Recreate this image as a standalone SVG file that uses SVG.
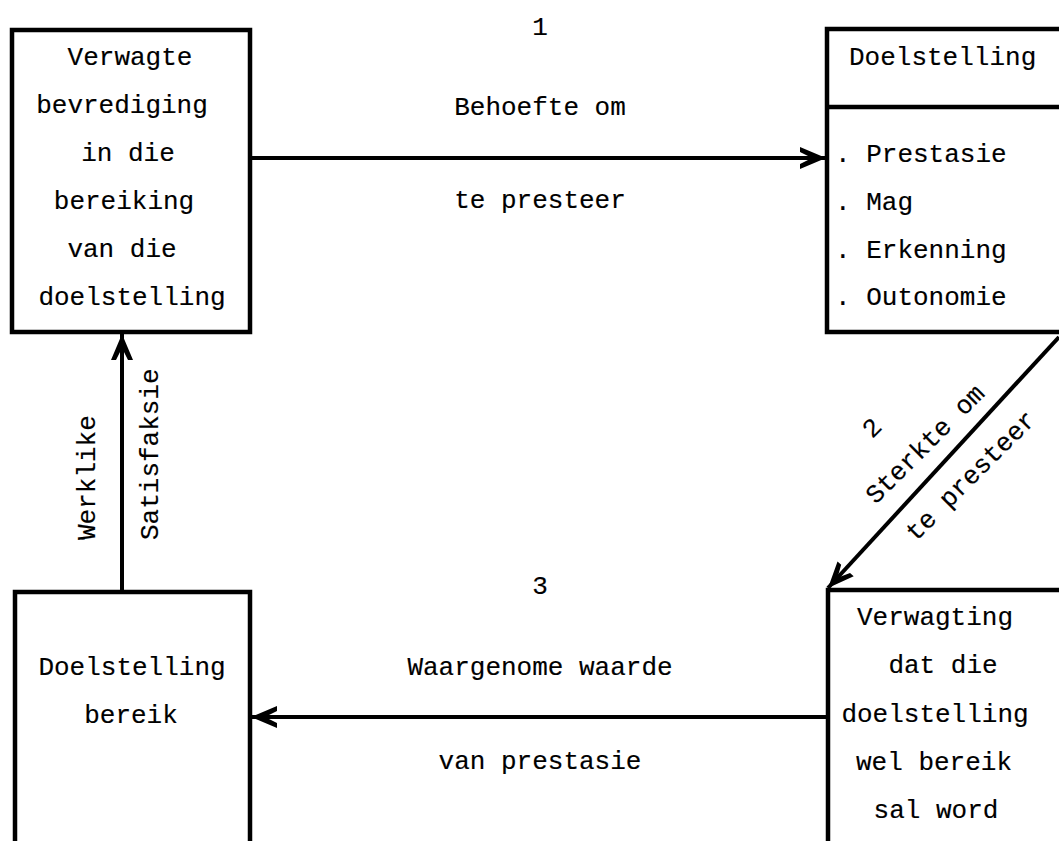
<svg xmlns="http://www.w3.org/2000/svg" width="1059" height="841" viewBox="0 0 1059 841">
<style>
  .box { fill: none; stroke: #000; stroke-width: 4.5; }
  .conn { fill: none; stroke: #000; stroke-width: 4; }
  text { font-family: "Liberation Mono", "DejaVu Sans Mono", monospace; font-size: 26px; fill: #000; stroke: #000; stroke-width: 0.15; }
  .c { text-anchor: middle; }
</style>
<defs>
  <marker id="arr" markerUnits="userSpaceOnUse" markerWidth="30" markerHeight="26" refX="27" refY="12" orient="auto">
    <path d="M27,12 L1,1 L1,6 L13,12 L1,18 L1,23 Z" fill="#000"/>
  </marker>
</defs>
<rect width="1059" height="841" fill="#fff"/>

<g id="node-verwagte-bevrediging">
  <rect class="box" x="12" y="30" width="238" height="302"/>
  <text class="c" x="130" y="65">Verwagte</text>
  <text class="c" x="122" y="113">bevrediging</text>
  <text class="c" x="128" y="161">in die</text>
  <text class="c" x="124" y="209">bereiking</text>
  <text class="c" x="122" y="257">van die</text>
  <text class="c" x="132" y="305">doelstelling</text>
</g>

<g id="node-doelstelling">
  <rect class="box" x="827" y="29" width="260" height="303"/>
  <line class="box" x1="827" y1="107" x2="1062" y2="107"/>
  <text x="849" y="65">Doelstelling</text>
  <text x="835" y="162">. Prestasie</text>
  <text x="835" y="210">. Mag</text>
  <text x="835" y="258">. Erkenning</text>
  <text x="835" y="305">. Outonomie</text>
</g>

<g id="node-verwagting">
  <rect class="box" x="828" y="590" width="260" height="280"/>
  <text class="c" x="935" y="625">Verwagting</text>
  <text class="c" x="943" y="673">dat die</text>
  <text class="c" x="935" y="722">doelstelling</text>
  <text class="c" x="934" y="770">wel bereik</text>
  <text class="c" x="936" y="818">sal word</text>
</g>

<g id="node-doelstelling-bereik">
  <rect class="box" x="15" y="592" width="235" height="280"/>
  <text class="c" x="132" y="675">Doelstelling</text>
  <text class="c" x="131" y="723">bereik</text>
</g>

<g id="connectors">
  <line class="conn" x1="250" y1="158" x2="826" y2="158" marker-end="url(#arr)"/>
  <line class="conn" x1="1059" y1="337" x2="828" y2="588" marker-end="url(#arr)"/>
  <line class="conn" x1="828" y1="717" x2="251" y2="717" marker-end="url(#arr)"/>
  <line class="conn" x1="122" y1="592" x2="122" y2="334" marker-end="url(#arr)"/>
</g>

<g id="labels">
  <text class="c" x="540" y="35">1</text>
  <text class="c" x="540" y="115">Behoefte om</text>
  <text class="c" x="540" y="208">te presteer</text>
  <text class="c" x="540" y="594">3</text>
  <text class="c" x="540" y="675">Waargenome waarde</text>
  <text class="c" x="540" y="769">van prestasie</text>
  <text transform="translate(95,540) rotate(-90)">Werklike</text>
  <text transform="translate(158,540) rotate(-90)">Satisfaksie</text>
  <text class="c" transform="translate(872,428) rotate(-45)" y="8">2</text>
  <text class="c" transform="translate(926,445) rotate(-45)" y="7">Sterkte om</text>
  <text class="c" transform="translate(973,478) rotate(-45)" y="5">te presteer</text>
</g>
</svg>
